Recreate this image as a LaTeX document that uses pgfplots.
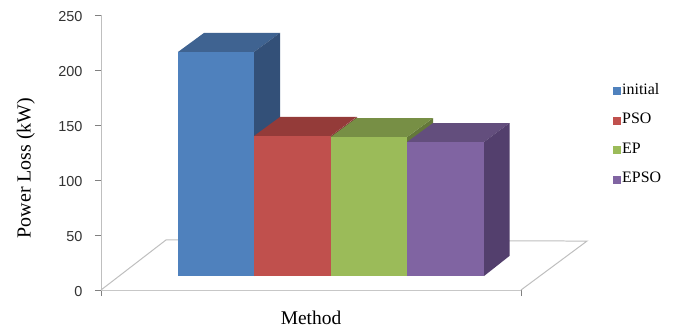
\documentclass[border=0pt]{standalone}
\usepackage{pgfplots}
\pgfplotsset{compat=1.18}
\usepackage{fontspec}
\setmainfont{Liberation Serif}
\newfontfamily\tickfont{Liberation Sans}
\definecolor{axgray}{HTML}{BFBFBF}
\definecolor{blueF}{HTML}{4F81BD}
\definecolor{blueT}{HTML}{3F6391}
\definecolor{blueS}{HTML}{335078}
\definecolor{redF}{HTML}{C0504D}
\definecolor{redT}{HTML}{943B39}
\definecolor{redS}{HTML}{7D3230}
\definecolor{greenF}{HTML}{9BBB59}
\definecolor{greenT}{HTML}{778F45}
\definecolor{greenS}{HTML}{64783A}
\definecolor{purpF}{HTML}{8064A2}
\definecolor{purpT}{HTML}{634E7D}
\definecolor{purpS}{HTML}{533F6D}
\begin{document}
\begin{tikzpicture}
\begin{axis}[
    scale only axis,
    width=420bp, height=275bp,
    xmin=101, xmax=521,
    ymin=0, ymax=250,
    clip=false,
    axis lines=left,
    axis line style={axgray, line width=1pt, -},
    xtick={101,521},
    xticklabels={},
    ytick={0,50,100,150,200,250},
    tick align=outside,
    major tick length=6bp,
    tick style={gray, line width=0.7pt},
    /pgf/number format/assume math mode=true,
    yticklabel style={font=\tickfont\fontsize{14.5}{16}\selectfont, color=black!80, xshift=-9bp, yshift=-1.5bp},
    ylabel={Power Loss (kW)},
    ylabel style={font=\fontsize{20}{22}\selectfont, at={(axis description cs:-0.179,0.444)}, anchor=center},
    xlabel={Method},
    xlabel style={font=\fontsize{19.5}{22}\selectfont, at={(axis description cs:0.5,-0.102)}, anchor=center},
    legend style={draw=none, fill=none, at={(axis cs:612.5,189)}, anchor=north west,
        font=\fontsize{16}{18}\selectfont, row sep=13.9bp, inner sep=0pt,
        nodes={inner sep=1.5bp, text height=10.5bp, text depth=2bp, anchor=base west}},
    legend cell align=left,
    legend image code/.code={\fill[#1] (0bp,-1bp) rectangle (8bp,7bp);},
]
% floor
\addplot[axgray, line width=1pt, fill=white, forget plot] coordinates {
    (101,0) (166,45.5) (587,44.5) (521,0) };

% initial
\addplot[draw=none, fill=blueT, forget plot] coordinates {
    (178,216.4) (254,216.4) (280,233.7) (204,233.7) } --cycle;
\addplot[draw=none, fill=blueS, forget plot] coordinates {
    (254,12.7) (280,30) (280,233.7) (254,216.4) } --cycle;
\addplot[draw=none, fill=blueF] coordinates {
    (178,12.7) (254,12.7) (254,216.4) (178,216.4) } --cycle;
\addlegendentry{initial}

% PSO
\addplot[draw=none, fill=redS, forget plot] coordinates {
    (330.5,120) (357,140) (357,157.3) (330.5,140) } --cycle;
\addplot[draw=none, fill=redT, forget plot] coordinates {
    (254,140) (330.5,140) (356.5,157.3) (280,157.3) } --cycle;
\addplot[draw=none, fill=redF] coordinates {
    (254,12.7) (330.5,12.7) (330.5,140) (254,140) } --cycle;
\addlegendentry{PSO}

% EP
\addplot[draw=none, fill=greenS, forget plot] coordinates {
    (407,134) (433,150) (433,156.3) (407,139) } --cycle;
\addplot[draw=none, fill=greenT, forget plot] coordinates {
    (330.5,139) (407,139) (433,156.3) (356.5,156.3) } --cycle;
\addplot[draw=none, fill=greenF] coordinates {
    (330.5,12.7) (407,12.7) (407,139) (330.5,139) } --cycle;
\addlegendentry{EP}

% EPSO
\addplot[draw=none, fill=purpT, forget plot] coordinates {
    (407,134.5) (484,134.5) (509.5,151.8) (433,151.8) } --cycle;
\addplot[draw=none, fill=purpS, forget plot] coordinates {
    (484,12.7) (509.5,31) (509.5,151.8) (484,134.5) } --cycle;
\addplot[draw=none, fill=purpF] coordinates {
    (407,12.7) (484,12.7) (484,134.5) (407,134.5) } --cycle;
\addlegendentry{EPSO}

\coordinate (bl) at (axis cs:0,-37.27);
\coordinate (tr) at (axis cs:681,263.64);
\end{axis}
\pgfresetboundingbox
\path[use as bounding box] (bl) rectangle (tr);
\end{tikzpicture}
\end{document}
